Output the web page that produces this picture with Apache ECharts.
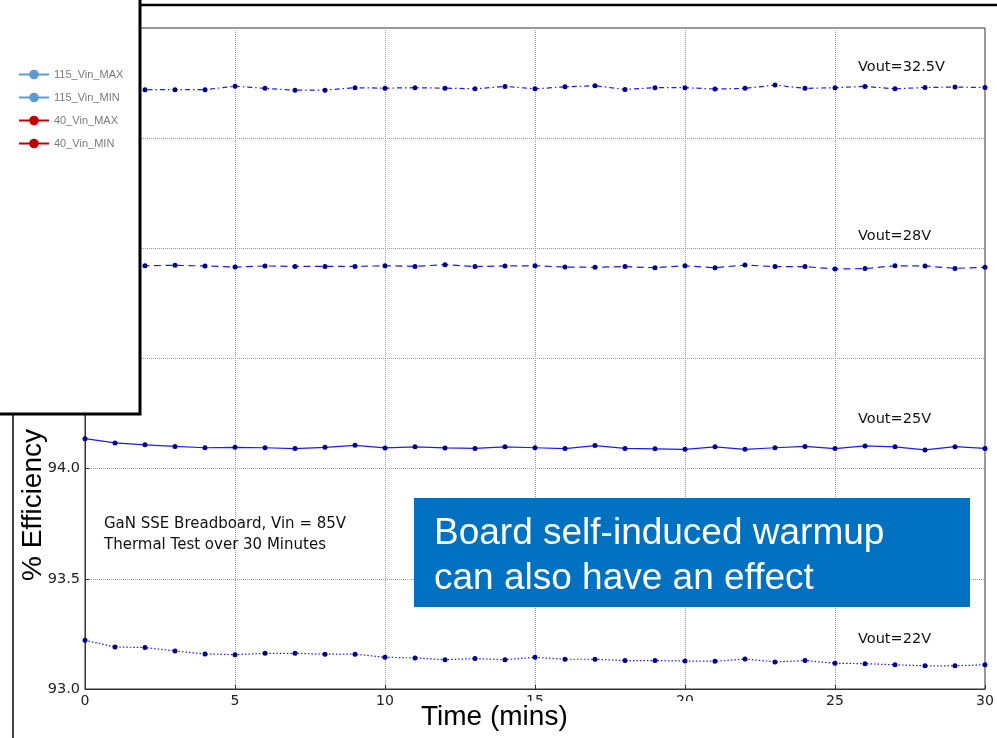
<!DOCTYPE html>
<html>
<head>
<meta charset="utf-8">
<script src="https://cdn.jsdelivr.net/npm/echarts@6/dist/echarts.min.js"></script>
<style>
  html, body { margin: 0; padding: 0; background: #fff; }
  #chart { width: 997px; height: 738px; }
</style>
</head>
<body>
<div id="chart"></div>
<script>
// time in minutes
var minutes = [0,1,2,3,4,5,6,7,8,9,10,11,12,13,14,15,16,17,18,19,20,21,22,23,24,25,26,27,28,29,30];

// % efficiency, one array per output voltage
var vout325 = [95.722,95.720,95.720,95.720,95.720,95.736,95.726,95.718,95.718,95.729,95.727,95.729,95.727,95.724,95.735,95.724,95.733,95.738,95.721,95.729,95.729,95.723,95.726,95.741,95.726,95.729,95.735,95.724,95.730,95.732,95.730];
var vout28  = [94.920,94.920,94.921,94.923,94.920,94.915,94.920,94.918,94.918,94.918,94.921,94.918,94.926,94.917,94.920,94.921,94.915,94.914,94.917,94.912,94.921,94.912,94.924,94.917,94.917,94.906,94.908,94.921,94.920,94.909,94.914];
var vout25  = [94.136,94.117,94.108,94.101,94.095,94.097,94.095,94.091,94.097,94.106,94.094,94.099,94.094,94.092,94.099,94.095,94.091,94.105,94.092,94.090,94.088,94.099,94.088,94.095,94.101,94.091,94.103,94.099,94.085,94.100,94.092];
var vout22  = [93.221,93.191,93.188,93.173,93.159,93.156,93.162,93.162,93.158,93.158,93.144,93.141,93.133,93.138,93.133,93.144,93.135,93.135,93.129,93.129,93.127,93.126,93.136,93.123,93.129,93.117,93.115,93.110,93.105,93.105,93.110];

// legend of the overlaid (other) chart
var legendNames = ['115_Vin_MAX','115_Vin_MIN','40_Vin_MAX','40_Vin_MIN'];
var legendColors = ['#5B9BD5','#5B9BD5','#C00000','#C00000'];

function pairs(ys){
  return minutes.map(function(m, i){ return [m, ys[i]]; });
}

function lineSeries(name, ys, dash){
  return {
    name: name,
    type: 'line',
    data: pairs(ys),
    symbol: 'circle',
    symbolSize: 5,
    itemStyle: { color: '#00008b' },
    lineStyle: { color: '#1a1aff', width: 1.2, type: dash },
    z: 2
  };
}

var series = [
  lineSeries('Vout=32.5V', vout325, [5, 3, 1.5, 3]),
  lineSeries('Vout=28V', vout28, [7, 4.5]),
  lineSeries('Vout=25V', vout25, 'solid'),
  lineSeries('Vout=22V', vout22, [1.5, 2])
];
// empty series, only used for the pasted legend
legendNames.forEach(function(n, i){
  series.push({
    name: n, type: 'line', data: [],
    symbol: 'circle', symbolSize: 8,
    itemStyle: { color: legendColors[i] },
    lineStyle: { color: legendColors[i], width: 3 }
  });
});

var chart = echarts.init(document.getElementById('chart'));
var tickFont = 'DejaVu Sans';

var option = {
  backgroundColor: '#fff',
  animation: false,
  grid: { left: 85, right: 12, top: 28, bottom: 49, show: true, borderColor: '#333', borderWidth: 1 },
  legend: {
    data: legendNames,
    orient: 'vertical',
    left: 18, top: 69,
    padding: 0,
    itemWidth: 30, itemHeight: 12, itemGap: 12,
    z: 10,
    textStyle: { color: '#7a7a7a', fontSize: 11, fontFamily: 'Liberation Sans' }
  },
  xAxis: {
    type: 'value', min: 0, max: 30, interval: 5,
    axisLine: { lineStyle: { color: '#333' } },
    axisTick: { inside: true, length: 4, lineStyle: { color: '#333' } },
    axisLabel: { color: '#222', fontSize: 14, fontFamily: tickFont, margin: 5 },
    splitLine: { show: true, lineStyle: { type: 'dotted', color: '#999' } }
  },
  yAxis: {
    type: 'value', min: 93, max: 96, interval: 0.5,
    axisLine: { show: true, lineStyle: { color: '#333' } },
    axisTick: { show: true, inside: true, length: 4, lineStyle: { color: '#333' } },
    axisLabel: { color: '#222', fontSize: 14.5, fontFamily: tickFont, margin: 5,
      formatter: function(v){ return v.toFixed(1); } },
    splitLine: { show: true, lineStyle: { type: 'dotted', color: '#999' } }
  },
  series: series,
  graphic: [
    // line labels
    { type: 'text', left: 858, top: 60, z: 4, style: { text: 'Vout=32.5V', fill: '#111', font: '14.5px DejaVu Sans' } },
    { type: 'text', left: 858, top: 229, z: 4, style: { text: 'Vout=28V', fill: '#111', font: '14.5px DejaVu Sans' } },
    { type: 'text', left: 858, top: 412, z: 4, style: { text: 'Vout=25V', fill: '#111', font: '14.5px DejaVu Sans' } },
    { type: 'text', left: 858, top: 632, z: 4, style: { text: 'Vout=22V', fill: '#111', font: '14.5px DejaVu Sans' } },
    // test description
    { type: 'text', left: 104, top: 514, z: 4, style: {
      text: 'GaN SSE Breadboard, Vin = 85V\nThermal Test over 30 Minutes',
      fill: '#111', font: '15px DejaVu Sans', lineHeight: 21 } },
    // white cover under x-axis title
    { type: 'rect', z: 5, shape: { x: 405, y: 701, width: 300, height: 37 }, style: { fill: '#fff' } },
    { type: 'text', left: 421, top: 703, z: 6, style: { text: 'Time (mins)', fill: '#000', font: '28px Liberation Sans' } },
    { type: 'text', z: 6, x: 33, y: 505, rotation: Math.PI / 2,
      style: { text: '% Efficiency', fill: '#000', font: '28px Liberation Sans', align: 'center', verticalAlign: 'middle' } },
    // pasted legend box from another chart
    { type: 'rect', z: 5, shape: { x: -5, y: -5, width: 145, height: 419 }, style: { fill: '#fff', stroke: '#000', lineWidth: 3 } },
    { type: 'line', z: 5, shape: { x1: 140, y1: 5, x2: 997, y2: 5 }, style: { stroke: '#000', lineWidth: 2.5 } },
    { type: 'line', z: 5, shape: { x1: 13, y1: 414, x2: 13, y2: 738 }, style: { stroke: '#000', lineWidth: 1.5 } },
    // callout box
    { type: 'rect', z: 7, shape: { x: 414, y: 498, width: 556, height: 109 }, style: { fill: '#0070C0' } },
    { type: 'text', left: 434, top: 511, z: 8, style: {
      text: 'Board self-induced warmup\ncan also have an effect',
      fill: '#fff', font: '37px Liberation Sans', lineHeight: 45 } }
  ]
};

chart.setOption(option);
</script>
</body>
</html>
